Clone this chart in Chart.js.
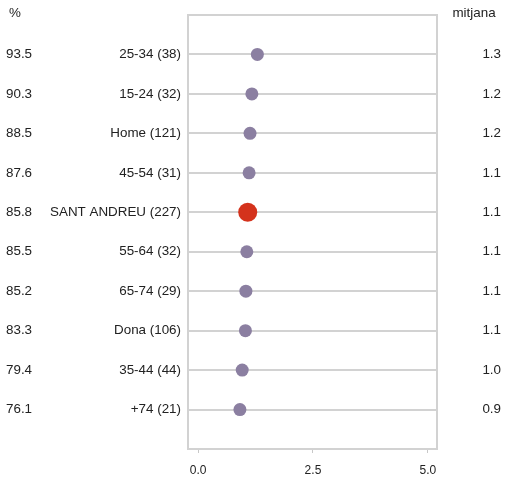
<!DOCTYPE html>
<html><head><meta charset="utf-8">
<script src="https://cdn.jsdelivr.net/npm/chart.js@4/dist/chart.umd.min.js"></script>
<style>html,body{margin:0;padding:0;background:#fff}#wrap{width:506px;height:477px}</style>
</head><body><div id="wrap"><canvas id="c" width="506" height="477"></canvas></div>
<script>
const categories = ["25-34 (38)","15-24 (32)","Home (121)","45-54 (31)","SANT ANDREU (227)","55-64 (32)","65-74 (29)","Dona (106)","35-44 (44)","+74 (21)"];
const meanValues = [1.29,1.17,1.13,1.11,1.08,1.06,1.04,1.03,0.96,0.91];
const percentLabels = ["93.5","90.3","88.5","87.6","85.8","85.5","85.2","83.3","79.4","76.1"];
const meanLabels = ["1.3","1.2","1.2","1.1","1.1","1.1","1.1","1.1","1.0","0.9"];
const xTicks = [0, 2.5, 5];
const highlight = "SANT ANDREU (227)";

const FONT = "13.4px 'Liberation Sans', Arial, sans-serif";
const textPlugin = {
  id: 'cols',
  afterDraw(chart) {
    const {ctx, chartArea: a, scales: {y}} = chart;
    ctx.save();
    ctx.strokeStyle = '#d2d2d2';
    ctx.lineWidth = 2;
    ctx.beginPath();
    ctx.moveTo(a.left, a.top); ctx.lineTo(a.right, a.top); ctx.lineTo(a.right, a.bottom);
    ctx.stroke();
    ctx.font = FONT;
    ctx.fillStyle = '#222';
    ctx.textBaseline = 'middle';
    ctx.textAlign = 'center';
    ctx.fillText('%', 15, 13);
    ctx.fillText('mitjana', 474, 13);
    categories.forEach((c, i) => {
      const py = y.getPixelForValue(i);
      ctx.textAlign = 'left';
      ctx.fillText(percentLabels[i], 6, py);
      ctx.textAlign = 'right';
      ctx.fillText(c, 181, py);
      ctx.fillText(meanLabels[i], 501, py);
    });
    ctx.restore();
  }
};

new Chart(document.getElementById('c'), {
  type: 'scatter',
  data: {
    datasets: [{
      data: categories.map((c, i) => ({x: meanValues[i], y: i})),
      pointRadius: categories.map(c => c === highlight ? 9.5 : 6.5),
      pointHoverRadius: categories.map(c => c === highlight ? 9.5 : 6.5),
      pointBackgroundColor: categories.map(c => c === highlight ? '#d4321c' : '#8b7fa1'),
      pointBorderWidth: 0
    }]
  },
  options: {
    responsive: false,
    animation: false,
    layout: {padding: {left: 188, right: 69, top: 15, bottom: 0}},
    plugins: {legend: {display: false}, tooltip: {enabled: false}},
    scales: {
      x: {
        type: 'linear', min: -0.22, max: 5.2,
        afterBuildTicks: s => { s.ticks = xTicks.map(v => ({value: v})); },
        afterFit: s => { s.height = 28; },
        grid: {drawOnChartArea: false, drawTicks: true, tickLength: 4, tickColor: '#c8c8c8', lineWidth: 1},
        border: {display: true, color: '#d2d2d2', width: 2},
        ticks: {color: '#222', font: {family: "'Liberation Sans', Arial, sans-serif", size: 12}, padding: 10,
                callback: v => Number(v).toFixed(1)}
      },
      y: {
        type: 'linear', reverse: true, min: -1, max: 10,
        afterBuildTicks: s => { s.ticks = categories.map((c, i) => ({value: i})); },
        ticks: {display: false},
        grid: {color: '#d2d2d2', lineWidth: 2, drawTicks: false},
        border: {display: true, color: '#d2d2d2', width: 2}
      }
    }
  },
  plugins: [textPlugin]
});
</script>
</body></html>
